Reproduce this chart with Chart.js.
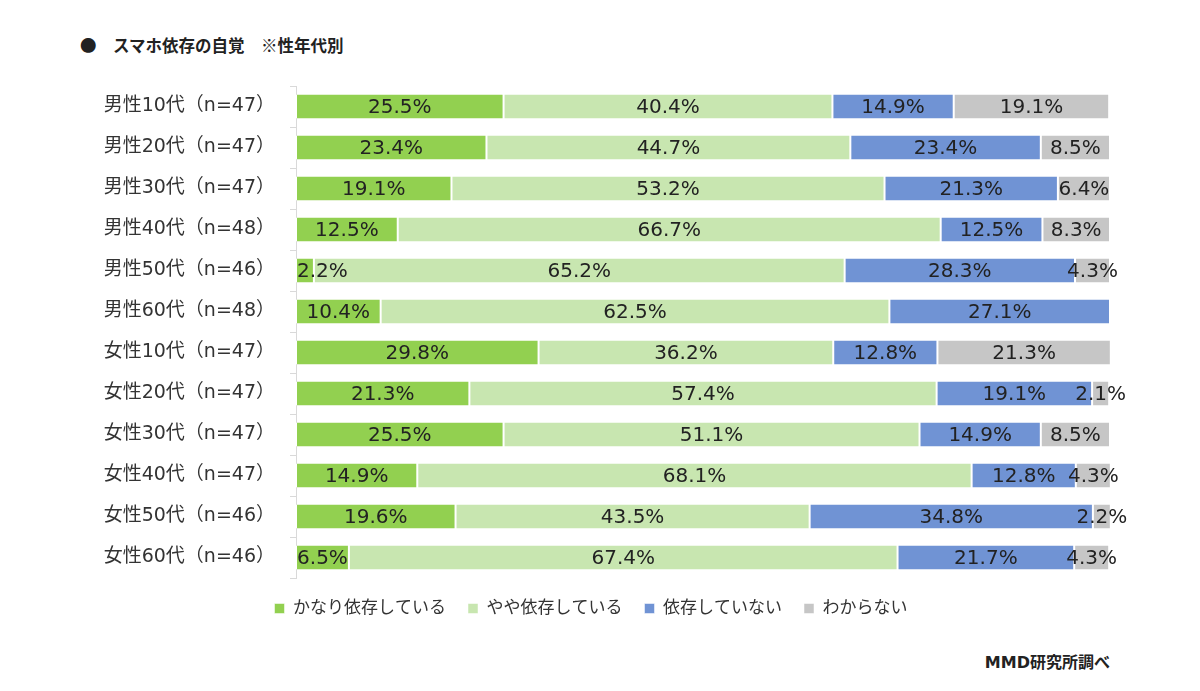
<!DOCTYPE html>
<html>
<head>
<meta charset="utf-8">
<script src="https://cdn.jsdelivr.net/npm/chart.js@4/dist/chart.umd.min.js"></script>
<style>
  html,body{margin:0;padding:0;background:#fff;width:1200px;height:691px;overflow:hidden;}
  #title{position:absolute;left:80px;top:33px;font-family:"Noto Sans CJK JP",sans-serif;font-weight:bold;font-size:16.5px;color:#222;white-space:pre;}
  #source{position:absolute;right:90px;top:649px;font-family:"DejaVu Sans","Noto Sans CJK JP",sans-serif;font-weight:bold;font-size:16px;color:#222;}
  #wrap{position:absolute;left:0;top:0;width:1200px;height:635px;}
</style>
</head>
<body>
<div id="title">●　スマホ依存の自覚　※性年代別</div>
<div id="wrap"><canvas id="c"></canvas></div>
<div id="source">MMD研究所調べ</div>
<script>
const categories = [
  "男性10代（n=47）","男性20代（n=47）","男性30代（n=47）","男性40代（n=48）",
  "男性50代（n=46）","男性60代（n=48）","女性10代（n=47）","女性20代（n=47）",
  "女性30代（n=47）","女性40代（n=47）","女性50代（n=46）","女性60代（n=46）"
];
const seriesNames = ["かなり依存している","やや依存している","依存していない","わからない"];
const heavy    = [25.5, 23.4, 19.1, 12.5,  2.2, 10.4, 29.8, 21.3, 25.5, 14.9, 19.6,  6.5];
const somewhat = [40.4, 44.7, 53.2, 66.7, 65.2, 62.5, 36.2, 57.4, 51.1, 68.1, 43.5, 67.4];
const notDep   = [14.9, 23.4, 21.3, 12.5, 28.3, 27.1, 12.8, 19.1, 14.9, 12.8, 34.8, 21.7];
const unknown  = [19.1,  8.5,  6.4,  8.3,  4.3,  0.0, 21.3,  2.1,  8.5,  4.3,  2.2,  4.3];
const colors = ["#92d050", "#c8e6b0", "#7093d4", "#c6c6c6"];

const FONT = '"DejaVu Sans","Noto Sans CJK JP",sans-serif';

const labelPlugin = {
  id: 'segLabels',
  afterDatasetsDraw(chart) {
    const ctx = chart.ctx;
    const area = chart.chartArea;
    ctx.save();
    ctx.font = '20px ' + FONT;
    ctx.fillStyle = '#222';
    ctx.textBaseline = 'middle';
    ctx.textAlign = 'left';
    chart.data.datasets.forEach((ds, di) => {
      const meta = chart.getDatasetMeta(di);
      meta.data.forEach((bar, i) => {
        const v = ds.data[i];
        if (!v) return;
        const txt = v.toFixed(1) + '%';
        const w = ctx.measureText(txt).width;
        let x = (bar.x + bar.base) / 2 - w / 2;
        if (x < area.left + 1) x = area.left + 1;
        ctx.fillText(txt, x, bar.y + 1);
      });
    });
    ctx.restore();
  }
};

new Chart(document.getElementById('c'), {
  type: 'bar',
  data: {
    labels: categories,
    datasets: [heavy, somewhat, notDep, unknown].map((d, i) => ({
      label: seriesNames[i],
      data: d,
      backgroundColor: colors[i],
      borderColor: '#ffffff',
      borderWidth: {left: 1, right: 1, top: 0, bottom: 0},
      borderSkipped: false,
      categoryPercentage: 1,
      barPercentage: 0.59
    }))
  },
  options: {
    indexAxis: 'y',
    responsive: true,
    maintainAspectRatio: false,
    animation: false,
    layout: { padding: { left: 72, right: 90, top: 86, bottom: 8 } },
    scales: {
      x: { stacked: true, min: 0, max: 100, display: false },
      y: {
        stacked: true,
        afterFit(scale) { scale.width = 224; },
        border: { display: true, color: '#d9d9d9', width: 1 },
        grid: { drawOnChartArea: false, drawTicks: true, tickLength: 6, color: '#d9d9d9', offset: true },
        ticks: { color: '#333', padding: 15, font: { family: FONT, size: 19 } }
      }
    },
    plugins: {
      legend: {
        position: 'bottom',
        labels: {
          boxWidth: 10, boxHeight: 10, padding: 22,
          color: '#333',
          font: { family: FONT, size: 17 }
        }
      },
      tooltip: { enabled: false }
    }
  },
  plugins: [labelPlugin]
});
</script>
</body>
</html>
